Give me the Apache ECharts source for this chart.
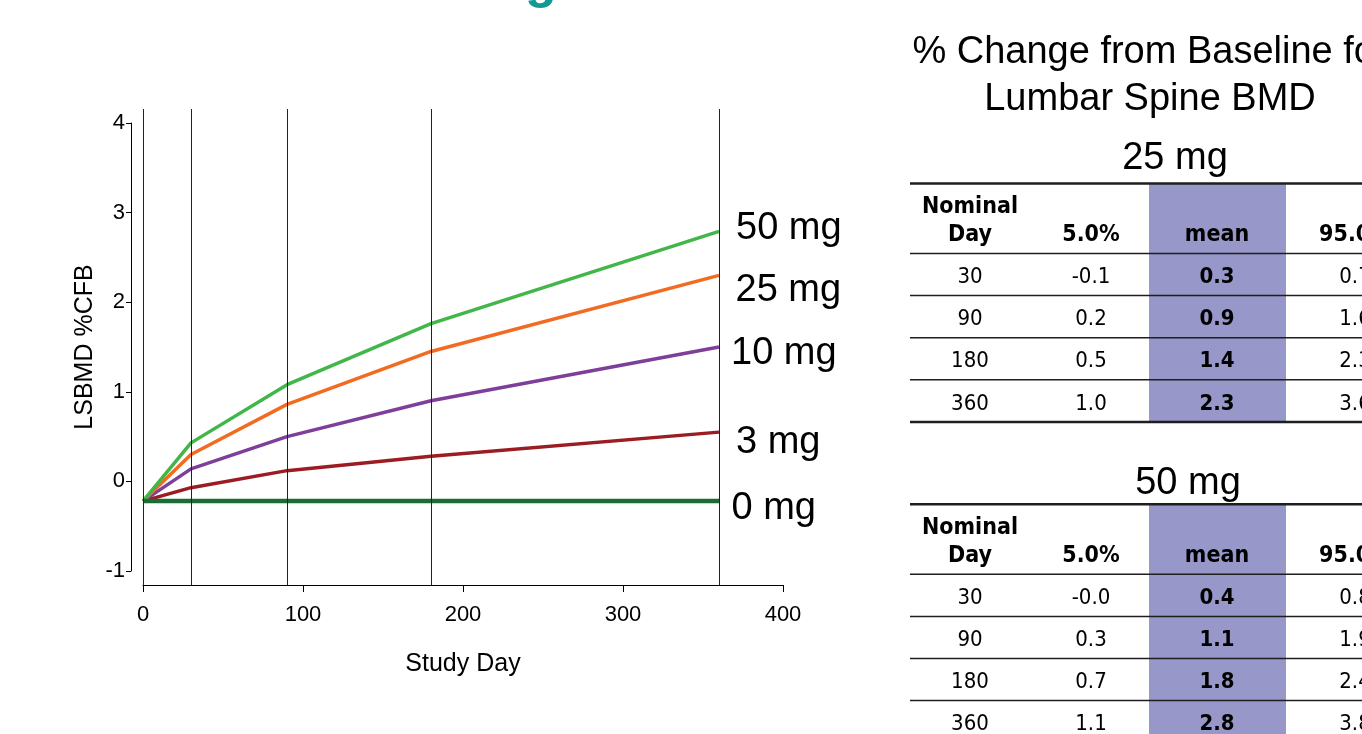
<!DOCTYPE html>
<html>
<head>
<meta charset="utf-8">
<script src="https://cdn.jsdelivr.net/npm/echarts@6/dist/echarts.min.js"></script>
<style>
  html, body { margin: 0; padding: 0; background: #fff; overflow: hidden; }
  #chart { width: 1362px; height: 734px; }
</style>
</head>
<body>
<div id="chart"></div>
<script>
// Study days at which the model is evaluated
const studyDays = [0, 30, 90, 180, 360];

// Modelled LSBMD % change from baseline, one array per dose
const doseNames = ['3 mg', '10 mg', '25 mg', '50 mg', '0 mg'];
const cfb3mg  = [-0.22, -0.07, 0.12, 0.28, 0.55];
const cfb10mg = [-0.22, 0.14, 0.50, 0.90, 1.50];
const cfb25mg = [-0.22, 0.30, 0.86, 1.45, 2.30];
const cfb50mg = [-0.22, 0.43, 1.08, 1.76, 2.79];
const cfb0mg  = [-0.22, -0.22, -0.22, -0.22, -0.22];

// Axis ticks
const xTicks = [0, 100, 200, 300, 400];
const yTicks = [-1, 0, 1, 2, 3, 4];

// Nominal days marked by vertical reference lines
const refDays = [0, 30, 90, 180, 360];

// Summary tables: 5th percentile, mean and 95th percentile by nominal day
const tableDays = ['30', '90', '180', '360'];
const tableHeaders = ['5.0%', 'mean', '95.0%'];
const lo25   = ['-0.1', '0.2', '0.5', '1.0'];
const mean25 = ['0.3', '0.9', '1.4', '2.3'];
const hi25   = ['0.7', '1.6', '2.3', '3.6'];
const lo50   = ['-0.0', '0.3', '0.7', '1.1'];
const mean50 = ['0.4', '1.1', '1.8', '2.8'];
const hi50   = ['0.8', '1.9', '2.4', '3.8'];

const SANS = "'Liberation Sans', Arial, Helvetica, sans-serif";
const TBL = "'DejaVu Sans Condensed', 'DejaVu Sans', Verdana, sans-serif";

// Line styling per dose (same order as doseNames)
const doseStyles = [
  { color: '#9b1c22', width: 3.5, labelOffset: [17, 10] },
  { color: '#7e3f9a', width: 3.5, labelOffset: [12, 7] },
  { color: '#f26b22', width: 3.5, labelOffset: [16.5, 15] },
  { color: '#42b649', width: 3.5, labelOffset: [17, -2.5] },
  { color: '#1d6b37', width: 4.5, labelOffset: [12.5, 7] }
];
const doseValues = [cfb3mg, cfb10mg, cfb25mg, cfb50mg, cfb0mg];

const lineSeries = doseNames.map((name, i) => ({
  name: name,
  type: 'line',
  xAxisIndex: 0,
  yAxisIndex: 0,
  data: studyDays.map((d, j) => [d, doseValues[i][j]]),
  symbol: 'none',
  silent: true,
  animation: false,
  lineStyle: { color: doseStyles[i].color, width: doseStyles[i].width },
  endLabel: {
    show: true,
    formatter: '{a}',
    distance: 0,
    offset: doseStyles[i].labelOffset,
    color: '#000',
    fontFamily: SANS,
    fontSize: 38
  }
}));

// Vertical reference lines live on a taller companion grid
const refSeries = {
  type: 'line',
  xAxisIndex: 1,
  yAxisIndex: 1,
  data: [],
  silent: true,
  animation: false,
  markLine: {
    silent: true,
    symbol: 'none',
    animation: false,
    label: { show: false },
    lineStyle: { color: '#222', width: 1, type: 'solid' },
    data: refDays.map(d => ({ xAxis: d }))
  }
};

// ---- right-hand summary tables drawn as graphic elements ----
const BAND = '#9797c9';
const COLX = { day: 970, lo: 1091, mean: 1217, hi: 1355 };

function txt(text, x, y, font, color) {
  return {
    type: 'text', silent: true,
    style: { text: text, x: x, y: y, font: font, fill: color || '#000', align: 'center', verticalAlign: 'middle' }
  };
}
function hline(y, w) {
  return {
    type: 'line', silent: true,
    shape: { x1: 910, y1: y, x2: 1362, y2: y },
    style: { stroke: '#1e1e1e', lineWidth: w }
  };
}

function buildTable(top, lo, mean, hi) {
  const headerH = 70;
  const rowH = 42.1;
  const bottom = top + headerH + rowH * tableDays.length;
  const els = [];
  els.push({
    type: 'rect', silent: true,
    shape: { x: 1149, y: top, width: 137, height: bottom - top },
    style: { fill: BAND }
  });
  const hb = 'bold 23px ' + TBL;
  els.push(txt('Nominal', COLX.day, top + 24, hb));
  els.push(txt('Day', COLX.day, top + 51.5, hb));
  els.push(txt(tableHeaders[0], COLX.lo, top + 51.5, hb));
  els.push(txt(tableHeaders[1], COLX.mean, top + 51.5, hb));
  els.push(txt(tableHeaders[2], COLX.hi, top + 51.5, hb));
  tableDays.forEach((d, i) => {
    const cy = top + headerH + rowH * i + rowH / 2 + 3;
    els.push(txt(d, COLX.day, cy, '22px ' + TBL));
    els.push(txt(lo[i], COLX.lo, cy, '22px ' + TBL));
    els.push(txt(mean[i], COLX.mean, cy, 'bold 22px ' + TBL));
    els.push(txt(hi[i], COLX.hi, cy, '22px ' + TBL));
    if (i > 0) els.push(hline(top + headerH + rowH * i, 1.5));
  });
  els.push(hline(top, 2.5));
  els.push(hline(top + headerH, 1.5));
  els.push(hline(bottom, 2.5));
  return els;
}

const graphics = [].concat(
  // teal slide heading, mostly above the visible area
  [{
    type: 'text', silent: true,
    style: { text: 'g', x: 541, y: -17, font: 'bold 52px ' + SANS, fill: '#0f9a94', align: 'center', verticalAlign: 'middle' }
  }],
  [
    txt('% Change from Baseline for', 1150, 53, '38px ' + SANS),
    txt('Lumbar Spine BMD', 1150, 99.5, '38px ' + SANS),
    txt('25 mg', 1175, 159, '38px ' + SANS),
    txt('50 mg', 1188, 484, '38px ' + SANS)
  ],
  buildTable(183.5, lo25, mean25, hi25),
  buildTable(504.3, lo50, mean50, hi50)
);

const chart = echarts.init(document.getElementById('chart'), null, { renderer: 'canvas' });
chart.setOption({
  animation: false,
  backgroundColor: '#fff',
  textStyle: { fontFamily: SANS },
  grid: [
    { left: 143, top: 123, width: 640, height: 448 },
    { left: 143, top: 109, width: 640, height: 476 }
  ],
  xAxis: [
    {
      gridIndex: 0, type: 'value', min: xTicks[0], max: xTicks[xTicks.length - 1], interval: 100,
      offset: 14,
      name: 'Study Day', nameLocation: 'middle', nameGap: 67, nameMoveOverlap: false,
      nameTextStyle: { fontSize: 25, color: '#000', fontFamily: SANS },
      axisLine: { show: true, onZero: false, lineStyle: { color: '#000', width: 1 } },
      axisTick: { show: true, inside: false, length: 7, lineStyle: { color: '#000' } },
      axisLabel: { show: true, fontSize: 22, color: '#000', margin: 19, fontFamily: SANS,
        customValues: xTicks },
      splitLine: { show: false }
    },
    {
      gridIndex: 1, type: 'value', min: 0, max: 400, show: false
    }
  ],
  yAxis: [
    {
      gridIndex: 0, type: 'value', min: yTicks[0], max: yTicks[yTicks.length - 1], interval: 1,
      offset: 12,
      name: 'LSBMD %CFB', nameLocation: 'middle', nameGap: 33, nameMoveOverlap: false,
      nameTextStyle: { fontSize: 25, color: '#000', fontFamily: SANS },
      axisLine: { show: true, onZero: false, lineStyle: { color: '#000', width: 1 } },
      axisTick: { show: true, inside: false, length: 5, lineStyle: { color: '#000' } },
      axisLabel: { show: true, fontSize: 22, color: '#000', margin: 6, fontFamily: SANS,
        customValues: yTicks },
      splitLine: { show: false }
    },
    {
      gridIndex: 1, type: 'value', min: 0, max: 1, show: false
    }
  ],
  series: [refSeries].concat(lineSeries),
  graphic: graphics
});
</script>
</body>
</html>
